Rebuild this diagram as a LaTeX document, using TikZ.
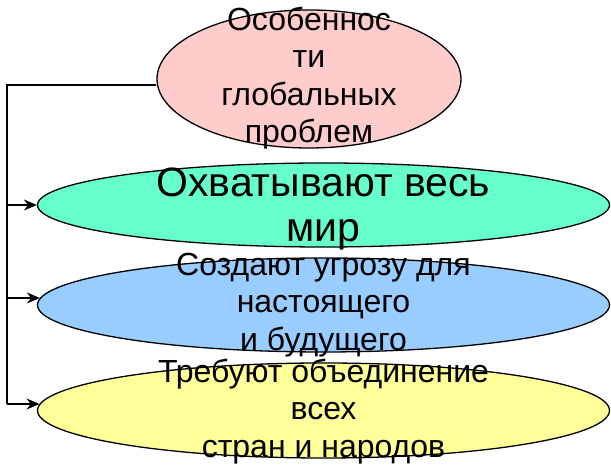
\documentclass[tikz,border=0pt]{standalone}
\usepackage{fontspec}
\setmainfont{Liberation Sans}
\usetikzlibrary{shapes.geometric,arrows.meta}
\definecolor{pinkf}{HTML}{FFCCCC}
\definecolor{greenf}{HTML}{66FFCC}
\definecolor{bluef}{HTML}{99CCFF}
\definecolor{yellowf}{HTML}{FFFF99}
\begin{document}
\begin{tikzpicture}[x=1pt,y=1pt,
  oval/.style={ellipse, draw=black, line width=1.3pt, inner sep=0pt},
  txt/.style={align=center, inner sep=0pt, font=\fontsize{32}{37.5}\selectfont},
  bigtxt/.style={align=center, inner sep=0pt, font=\fontsize{41}{45}\selectfont},
  conn/.style={line width=1.3pt, draw=black},
  arr/.style={conn, -{Stealth[length=13pt,width=11pt]}}]
\useasboundingbox (0,0) rectangle (611,470);
\node[oval, fill=pinkf, minimum width=304pt, minimum height=138pt] (e1) at (309,391) {};
\node[oval, fill=greenf, minimum width=572pt, minimum height=84pt] (e2) at (323.5,265) {};
\node[oval, fill=bluef, minimum width=572pt, minimum height=94pt] (e3) at (323.5,165) {};
\node[oval, fill=yellowf, minimum width=572pt, minimum height=95pt] (e4) at (323.5,59.5) {};
\node[txt] (t1) at ([yshift=1pt]e1.center) {Особеннос\\ти\\глобальных\\проблем};
\node[bigtxt] (t2) at ([yshift=-4pt]e2.center) {Охватывают весь\\мир};
\node[txt] (t3) at ([yshift=0pt]e3.center) {Создают угрозу для\\настоящего\\и будущего};
\node[txt] (t4) at ([yshift=-1pt]e4.center) {Требуют объединение\\всех\\стран и народов};
\coordinate (c0) at (7,385);
\coordinate (c2) at (7,265);
\coordinate (c3) at (7,172);
\coordinate (c4) at (7,66);
\draw[conn] (c0 -| e1.west) -- (c0) -- (c4);
\draw[arr] (c2) -- (e2.west);
\draw[arr] (c3) -- ([xshift=3pt]c3 -| e3.west);
\draw[arr] (c4) -- ([xshift=2.7pt]c4 -| e4.west);
\draw[line width=2.6pt] (83,385) -- (97,385);
\end{tikzpicture}
\end{document}
